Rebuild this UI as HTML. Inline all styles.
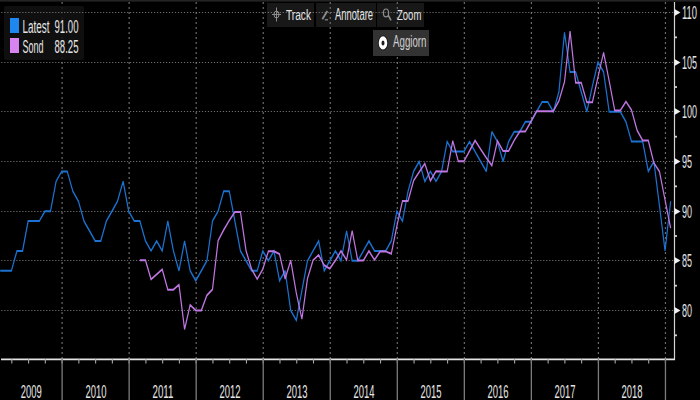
<!DOCTYPE html><html><head><meta charset="utf-8"><style>html,body{margin:0;padding:0;background:#000;width:700px;height:400px;overflow:hidden}svg{display:block}text{font-family:"Liberation Sans",Arial,sans-serif;fill:#e6e6e6}</style></head><body>
<svg width="700" height="400" viewBox="0 0 700 400">
<rect x="0" y="0" width="700" height="400" fill="#000"/>
<rect x="0" y="0" width="700" height="1" fill="#242424"/>
<rect x="0" y="1" width="700" height="1" fill="#151515"/>
<rect x="267" y="3" width="47" height="24" fill="#181818"/>
<rect x="316" y="3" width="60" height="24" fill="#181818"/>
<rect x="377" y="3" width="47" height="24" fill="#181818"/>
<line x1="62.10" y1="0" x2="62.10" y2="359" stroke="#6c6c6c" stroke-width="1.2" stroke-dasharray="2 3" stroke-dashoffset="3"/>
<line x1="129.14" y1="0" x2="129.14" y2="359" stroke="#6c6c6c" stroke-width="1.2" stroke-dasharray="2 3" stroke-dashoffset="3"/>
<line x1="196.18" y1="0" x2="196.18" y2="359" stroke="#6c6c6c" stroke-width="1.2" stroke-dasharray="2 3" stroke-dashoffset="3"/>
<line x1="263.22" y1="0" x2="263.22" y2="359" stroke="#6c6c6c" stroke-width="1.2" stroke-dasharray="2 3" stroke-dashoffset="3"/>
<line x1="330.26" y1="0" x2="330.26" y2="359" stroke="#6c6c6c" stroke-width="1.2" stroke-dasharray="2 3" stroke-dashoffset="3"/>
<line x1="397.30" y1="0" x2="397.30" y2="359" stroke="#6c6c6c" stroke-width="1.2" stroke-dasharray="2 3" stroke-dashoffset="3"/>
<line x1="464.34" y1="0" x2="464.34" y2="359" stroke="#6c6c6c" stroke-width="1.2" stroke-dasharray="2 3" stroke-dashoffset="3"/>
<line x1="531.38" y1="0" x2="531.38" y2="359" stroke="#6c6c6c" stroke-width="1.2" stroke-dasharray="2 3" stroke-dashoffset="3"/>
<line x1="598.42" y1="0" x2="598.42" y2="359" stroke="#6c6c6c" stroke-width="1.2" stroke-dasharray="2 3" stroke-dashoffset="3"/>
<line x1="665.46" y1="0" x2="665.46" y2="359" stroke="#6c6c6c" stroke-width="1.2" stroke-dasharray="2 3" stroke-dashoffset="3"/>
<rect x="4" y="6" width="80" height="54" rx="2" fill="rgba(18,18,18,0.85)"/>
<line x1="0" y1="12.5" x2="1125.58" y2="12.5" stroke="#8a8a8a" stroke-width="1" stroke-dasharray="2 3" stroke-dashoffset="2.83" transform="scale(0.5988,1)"/>
<line x1="0" y1="62.5" x2="1125.58" y2="62.5" stroke="#8a8a8a" stroke-width="1" stroke-dasharray="2 3" stroke-dashoffset="2.83" transform="scale(0.5988,1)"/>
<line x1="0" y1="111.5" x2="1125.58" y2="111.5" stroke="#8a8a8a" stroke-width="1" stroke-dasharray="2 3" stroke-dashoffset="2.83" transform="scale(0.5988,1)"/>
<line x1="0" y1="161.5" x2="1125.58" y2="161.5" stroke="#8a8a8a" stroke-width="1" stroke-dasharray="2 3" stroke-dashoffset="2.83" transform="scale(0.5988,1)"/>
<line x1="0" y1="211.5" x2="1125.58" y2="211.5" stroke="#8a8a8a" stroke-width="1" stroke-dasharray="2 3" stroke-dashoffset="2.83" transform="scale(0.5988,1)"/>
<line x1="0" y1="260.5" x2="1125.58" y2="260.5" stroke="#8a8a8a" stroke-width="1" stroke-dasharray="2 3" stroke-dashoffset="2.83" transform="scale(0.5988,1)"/>
<line x1="0" y1="310.5" x2="1125.58" y2="310.5" stroke="#8a8a8a" stroke-width="1" stroke-dasharray="2 3" stroke-dashoffset="2.83" transform="scale(0.5988,1)"/>
<g transform="scale(0.5988,1)">
<polyline points="0.33,270.8 9.66,270.8 18.99,270.8 28.32,250.9 37.66,250.9 46.99,221.1 56.32,221.1 65.65,221.1 74.98,211.2 84.31,211.2 93.64,181.4 102.97,171.4 112.30,171.4 121.63,191.3 130.96,201.2 140.29,221.1 149.62,231.0 158.95,241.0 168.28,241.0 177.61,221.1 186.94,211.2 196.27,201.2 205.60,181.4 214.93,211.2 224.26,221.1 233.59,221.1 242.92,241.0 252.25,250.9 261.58,241.0 270.91,250.9 280.24,221.1 289.57,250.9 298.90,270.8 308.23,241.0 317.57,270.8 326.90,280.7 336.23,270.8 345.56,260.8 354.89,221.1 364.22,211.2 373.55,191.3 382.88,191.3 392.21,221.1 401.54,250.9 410.87,260.8 420.20,270.8 429.53,270.8 438.86,250.9 448.19,260.8 457.52,250.9 466.85,280.7 476.18,270.8 485.51,310.5 494.84,320.4 504.17,290.6 513.50,260.8 522.83,250.9 532.16,241.0 541.49,270.8 550.82,260.8 560.15,250.9 569.48,260.8 578.81,231.0 588.14,260.8 597.47,260.8 606.81,250.9 616.14,241.0 625.47,250.9 634.80,250.9 644.13,250.9 653.46,241.0 662.79,211.2 672.12,221.1 681.45,191.3 690.78,171.4 700.11,161.5 709.44,181.4 718.77,171.4 728.10,181.4 737.43,171.4 746.76,141.6 756.09,151.6 765.42,151.6 774.75,151.6 784.08,141.6 793.41,151.6 802.74,161.5 812.07,171.4 821.40,131.7 830.73,141.6 840.06,161.5 849.39,141.6 858.72,131.7 868.05,131.7 877.38,121.8 886.72,121.8 896.05,111.8 905.38,101.9 914.71,101.9 924.04,111.8 933.37,92.0 942.70,32.4 952.03,72.1 961.36,72.1 970.69,92.0 980.02,111.8 989.35,86.0 998.68,62.2 1008.01,72.1 1017.34,111.8 1026.67,111.8 1036.00,111.8 1045.33,121.8 1054.66,141.6 1063.99,141.6 1073.32,141.6 1082.65,171.4 1091.98,161.5 1101.31,205.6 1110.64,250.9 1119.97,201.2" fill="none" stroke="#1b72d0" stroke-width="2" stroke-linejoin="miter" stroke-miterlimit="2"/>
<polyline points="233.59,260.3 242.92,260.3 252.25,279.3 261.58,274.3 270.91,269.3 280.24,289.7 289.57,289.7 298.90,284.7 308.23,329.3 317.57,305.0 326.90,310.4 336.23,310.4 345.56,295.3 354.89,289.3 364.22,240.7 373.55,230.0 382.88,220.4 392.21,211.9 401.54,211.9 410.87,250.6 420.20,269.1 429.53,279.1 438.86,269.1 448.19,251.3 457.52,251.3 466.85,254.1 476.18,278.8 485.51,260.4 494.84,293.0 504.17,319.0 513.50,278.6 522.83,260.2 532.16,255.0 541.49,265.3 550.82,268.6 560.15,260.4 569.48,251.0 578.81,260.0 588.14,230.7 597.47,260.4 606.81,260.4 616.14,251.0 625.47,260.0 634.80,251.4 644.13,251.4 653.46,253.8 662.79,226.0 672.12,201.0 681.45,201.0 690.78,180.5 700.11,172.0 709.44,163.5 718.77,180.8 728.10,171.2 737.43,171.5 746.76,171.5 756.09,140.9 765.42,161.3 774.75,161.3 784.08,151.0 793.41,140.5 802.74,149.3 812.07,157.7 821.40,165.5 830.73,140.8 840.06,151.0 849.39,151.0 858.72,140.4 868.05,131.5 877.38,131.5 886.72,121.5 896.05,111.2 905.38,111.2 914.71,111.2 924.04,111.2 933.37,101.0 942.70,82.0 952.03,31.3 961.36,82.8 970.69,82.8 980.02,102.2 989.35,102.2 998.68,77.0 1008.01,52.5 1017.34,81.0 1026.67,110.5 1036.00,110.5 1045.33,101.5 1054.66,110.0 1063.99,130.5 1073.32,140.5 1082.65,140.5 1091.98,163.0 1101.31,171.5 1110.64,200.0 1119.97,228.1" fill="none" stroke="#c076e2" stroke-width="2" stroke-linejoin="miter" stroke-miterlimit="2"/>
</g>
<rect x="373" y="30" width="56" height="26" fill="#333"/>
<line x1="674.5" y1="2" x2="674.5" y2="360" stroke="#d4d4d4" stroke-width="1.2"/>
<line x1="1" y1="359.4" x2="675" y2="359.4" stroke="#e2e2e2" stroke-width="1.8"/>
<line x1="11.82" y1="359" x2="11.82" y2="363.5" stroke="#a8a8a8" stroke-width="1.1"/>
<line x1="28.58" y1="359" x2="28.58" y2="363.5" stroke="#a8a8a8" stroke-width="1.1"/>
<line x1="45.34" y1="359" x2="45.34" y2="363.5" stroke="#a8a8a8" stroke-width="1.1"/>
<line x1="62.10" y1="359" x2="62.10" y2="363.5" stroke="#a8a8a8" stroke-width="1.1"/>
<line x1="78.86" y1="359" x2="78.86" y2="363.5" stroke="#a8a8a8" stroke-width="1.1"/>
<line x1="95.62" y1="359" x2="95.62" y2="363.5" stroke="#a8a8a8" stroke-width="1.1"/>
<line x1="112.38" y1="359" x2="112.38" y2="363.5" stroke="#a8a8a8" stroke-width="1.1"/>
<line x1="129.14" y1="359" x2="129.14" y2="363.5" stroke="#a8a8a8" stroke-width="1.1"/>
<line x1="145.90" y1="359" x2="145.90" y2="363.5" stroke="#a8a8a8" stroke-width="1.1"/>
<line x1="162.66" y1="359" x2="162.66" y2="363.5" stroke="#a8a8a8" stroke-width="1.1"/>
<line x1="179.42" y1="359" x2="179.42" y2="363.5" stroke="#a8a8a8" stroke-width="1.1"/>
<line x1="196.18" y1="359" x2="196.18" y2="363.5" stroke="#a8a8a8" stroke-width="1.1"/>
<line x1="212.94" y1="359" x2="212.94" y2="363.5" stroke="#a8a8a8" stroke-width="1.1"/>
<line x1="229.70" y1="359" x2="229.70" y2="363.5" stroke="#a8a8a8" stroke-width="1.1"/>
<line x1="246.46" y1="359" x2="246.46" y2="363.5" stroke="#a8a8a8" stroke-width="1.1"/>
<line x1="263.22" y1="359" x2="263.22" y2="363.5" stroke="#a8a8a8" stroke-width="1.1"/>
<line x1="279.98" y1="359" x2="279.98" y2="363.5" stroke="#a8a8a8" stroke-width="1.1"/>
<line x1="296.74" y1="359" x2="296.74" y2="363.5" stroke="#a8a8a8" stroke-width="1.1"/>
<line x1="313.50" y1="359" x2="313.50" y2="363.5" stroke="#a8a8a8" stroke-width="1.1"/>
<line x1="330.26" y1="359" x2="330.26" y2="363.5" stroke="#a8a8a8" stroke-width="1.1"/>
<line x1="347.02" y1="359" x2="347.02" y2="363.5" stroke="#a8a8a8" stroke-width="1.1"/>
<line x1="363.78" y1="359" x2="363.78" y2="363.5" stroke="#a8a8a8" stroke-width="1.1"/>
<line x1="380.54" y1="359" x2="380.54" y2="363.5" stroke="#a8a8a8" stroke-width="1.1"/>
<line x1="397.30" y1="359" x2="397.30" y2="363.5" stroke="#a8a8a8" stroke-width="1.1"/>
<line x1="414.06" y1="359" x2="414.06" y2="363.5" stroke="#a8a8a8" stroke-width="1.1"/>
<line x1="430.82" y1="359" x2="430.82" y2="363.5" stroke="#a8a8a8" stroke-width="1.1"/>
<line x1="447.58" y1="359" x2="447.58" y2="363.5" stroke="#a8a8a8" stroke-width="1.1"/>
<line x1="464.34" y1="359" x2="464.34" y2="363.5" stroke="#a8a8a8" stroke-width="1.1"/>
<line x1="481.10" y1="359" x2="481.10" y2="363.5" stroke="#a8a8a8" stroke-width="1.1"/>
<line x1="497.86" y1="359" x2="497.86" y2="363.5" stroke="#a8a8a8" stroke-width="1.1"/>
<line x1="514.62" y1="359" x2="514.62" y2="363.5" stroke="#a8a8a8" stroke-width="1.1"/>
<line x1="531.38" y1="359" x2="531.38" y2="363.5" stroke="#a8a8a8" stroke-width="1.1"/>
<line x1="548.14" y1="359" x2="548.14" y2="363.5" stroke="#a8a8a8" stroke-width="1.1"/>
<line x1="564.90" y1="359" x2="564.90" y2="363.5" stroke="#a8a8a8" stroke-width="1.1"/>
<line x1="581.66" y1="359" x2="581.66" y2="363.5" stroke="#a8a8a8" stroke-width="1.1"/>
<line x1="598.42" y1="359" x2="598.42" y2="363.5" stroke="#a8a8a8" stroke-width="1.1"/>
<line x1="615.18" y1="359" x2="615.18" y2="363.5" stroke="#a8a8a8" stroke-width="1.1"/>
<line x1="631.94" y1="359" x2="631.94" y2="363.5" stroke="#a8a8a8" stroke-width="1.1"/>
<line x1="648.70" y1="359" x2="648.70" y2="363.5" stroke="#a8a8a8" stroke-width="1.1"/>
<line x1="665.46" y1="359" x2="665.46" y2="363.5" stroke="#a8a8a8" stroke-width="1.1"/>
<line x1="62.10" y1="359" x2="62.10" y2="400" stroke="#7c7c7c" stroke-width="1.3"/>
<line x1="129.14" y1="359" x2="129.14" y2="400" stroke="#7c7c7c" stroke-width="1.3"/>
<line x1="196.18" y1="359" x2="196.18" y2="400" stroke="#7c7c7c" stroke-width="1.3"/>
<line x1="263.22" y1="359" x2="263.22" y2="400" stroke="#7c7c7c" stroke-width="1.3"/>
<line x1="330.26" y1="359" x2="330.26" y2="400" stroke="#7c7c7c" stroke-width="1.3"/>
<line x1="397.30" y1="359" x2="397.30" y2="400" stroke="#7c7c7c" stroke-width="1.3"/>
<line x1="464.34" y1="359" x2="464.34" y2="400" stroke="#7c7c7c" stroke-width="1.3"/>
<line x1="531.38" y1="359" x2="531.38" y2="400" stroke="#7c7c7c" stroke-width="1.3"/>
<line x1="598.42" y1="359" x2="598.42" y2="400" stroke="#7c7c7c" stroke-width="1.3"/>
<line x1="665.46" y1="359" x2="665.46" y2="400" stroke="#7c7c7c" stroke-width="1.3"/>
<line x1="674" y1="37.34" x2="677" y2="37.34" stroke="#d0d0d0" stroke-width="1.8"/>
<line x1="674" y1="87.01" x2="677" y2="87.01" stroke="#d0d0d0" stroke-width="1.8"/>
<line x1="674" y1="136.67" x2="677" y2="136.67" stroke="#d0d0d0" stroke-width="1.8"/>
<line x1="674" y1="186.34" x2="677" y2="186.34" stroke="#d0d0d0" stroke-width="1.8"/>
<line x1="674" y1="236.00" x2="677" y2="236.00" stroke="#d0d0d0" stroke-width="1.8"/>
<line x1="674" y1="285.67" x2="677" y2="285.67" stroke="#d0d0d0" stroke-width="1.8"/>
<line x1="674" y1="335.33" x2="677" y2="335.33" stroke="#d0d0d0" stroke-width="1.8"/>
<polygon points="674.5,9.0 680.5,12.5 674.5,16.0" fill="#f0f0f0"/>
<text x="682" y="19.0" font-size="18" textLength="15" lengthAdjust="spacingAndGlyphs">110</text>
<polygon points="674.5,59.0 680.5,62.5 674.5,66.0" fill="#f0f0f0"/>
<text x="682" y="69.0" font-size="18" textLength="15" lengthAdjust="spacingAndGlyphs">105</text>
<polygon points="674.5,108.0 680.5,111.5 674.5,115.0" fill="#f0f0f0"/>
<text x="682" y="118.0" font-size="18" textLength="15" lengthAdjust="spacingAndGlyphs">100</text>
<polygon points="674.5,158.0 680.5,161.5 674.5,165.0" fill="#f0f0f0"/>
<text x="682" y="168.0" font-size="18" textLength="10" lengthAdjust="spacingAndGlyphs">95</text>
<polygon points="674.5,208.0 680.5,211.5 674.5,215.0" fill="#f0f0f0"/>
<text x="682" y="218.0" font-size="18" textLength="10" lengthAdjust="spacingAndGlyphs">90</text>
<polygon points="674.5,257.0 680.5,260.5 674.5,264.0" fill="#f0f0f0"/>
<text x="682" y="267.0" font-size="18" textLength="10" lengthAdjust="spacingAndGlyphs">85</text>
<polygon points="674.5,307.0 680.5,310.5 674.5,314.0" fill="#f0f0f0"/>
<text x="682" y="317.0" font-size="18" textLength="10" lengthAdjust="spacingAndGlyphs">80</text>
<text x="20.8" y="397.5" font-size="18" textLength="21" lengthAdjust="spacingAndGlyphs">2009</text>
<text x="85.5" y="397.5" font-size="18" textLength="21" lengthAdjust="spacingAndGlyphs">2010</text>
<text x="152.5" y="397.5" font-size="18" textLength="21" lengthAdjust="spacingAndGlyphs">2011</text>
<text x="219.5" y="397.5" font-size="18" textLength="21" lengthAdjust="spacingAndGlyphs">2012</text>
<text x="286.5" y="397.5" font-size="18" textLength="21" lengthAdjust="spacingAndGlyphs">2013</text>
<text x="353.5" y="397.5" font-size="18" textLength="21" lengthAdjust="spacingAndGlyphs">2014</text>
<text x="420.5" y="397.5" font-size="18" textLength="21" lengthAdjust="spacingAndGlyphs">2015</text>
<text x="487.5" y="397.5" font-size="18" textLength="21" lengthAdjust="spacingAndGlyphs">2016</text>
<text x="554.5" y="397.5" font-size="18" textLength="21" lengthAdjust="spacingAndGlyphs">2017</text>
<text x="621.5" y="397.5" font-size="18" textLength="21" lengthAdjust="spacingAndGlyphs">2018</text>
<rect x="10" y="18" width="9" height="15" fill="#1e88f0"/>
<rect x="10" y="38" width="9" height="15" fill="#d884f0"/>
<text x="22.5" y="33" font-size="17.5" textLength="27" lengthAdjust="spacingAndGlyphs">Latest</text>
<text x="54.5" y="33" font-size="17.5" textLength="24" lengthAdjust="spacingAndGlyphs">91.00</text>
<text x="22.5" y="53" font-size="17.5" textLength="21" lengthAdjust="spacingAndGlyphs">Sond</text>
<text x="54.5" y="53" font-size="17.5" textLength="24" lengthAdjust="spacingAndGlyphs">88.25</text>
<g stroke="#8c8c8c" stroke-width="1" fill="none"><ellipse cx="276.5" cy="14.5" rx="2.5" ry="3.5"/><line x1="276.5" y1="7.5" x2="276.5" y2="21.5"/><line x1="272" y1="14.5" x2="281" y2="14.5"/></g>
<text x="286" y="20" font-size="15.3" textLength="25" lengthAdjust="spacingAndGlyphs">Track</text>
<g stroke="#8c8c8c" fill="none"><line x1="322.3" y1="19.3" x2="327.3" y2="11" stroke-width="1.8"/><line x1="324.8" y1="19.8" x2="328" y2="19.8" stroke-width="1.2"/></g>
<text x="335" y="19.8" font-size="16.3" textLength="38" lengthAdjust="spacingAndGlyphs">Annotare</text>
<g stroke="#8c8c8c" stroke-width="1.2" fill="none"><ellipse cx="386" cy="12.9" rx="2.6" ry="3.9"/><line x1="388.3" y1="15.4" x2="391" y2="20.3" stroke-width="1.6"/></g>
<text x="397" y="19.8" font-size="15.3" textLength="24.3" lengthAdjust="spacingAndGlyphs">Zoom</text>
<ellipse cx="383" cy="42.9" rx="5.2" ry="7.6" fill="#141414" opacity="0.7"/>
<path d="M378.75,42.9 a4.25,6.6 0 1,0 8.5,0 a4.25,6.6 0 1,0 -8.5,0 Z M381.5,42.9 a1.5,2.5 0 1,0 3,0 a1.5,2.5 0 1,0 -3,0 Z" fill="#ffffff" fill-rule="evenodd"/>
<text x="393" y="47.3" font-size="16.5" textLength="33.5" lengthAdjust="spacingAndGlyphs" style="fill:#cfcfcf">Aggiorn</text>
</svg></body></html>
